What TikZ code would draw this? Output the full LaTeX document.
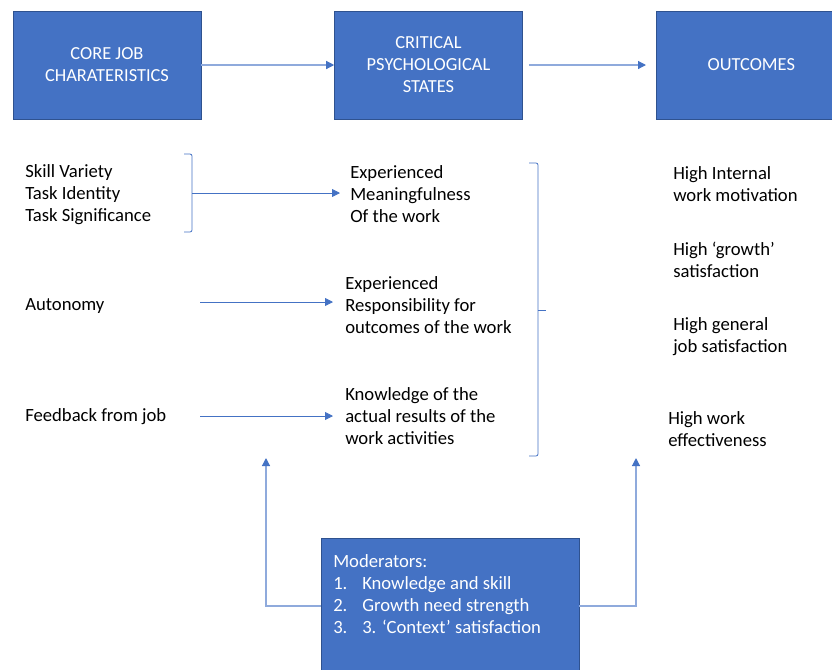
\documentclass[tikz,border=0pt]{standalone}
\usepackage{fontspec}
\setmainfont{Carlito}
\usetikzlibrary{arrows.meta}

\definecolor{boxblue}{HTML}{4472C4}
\definecolor{boxedge}{HTML}{2F528F}
\definecolor{linkblue}{HTML}{8FAADC}

\begin{document}
\begin{tikzpicture}[x=0.75pt, y=-0.75pt,
  font=\fontsize{14}{16.5}\selectfont,
  bluebox/.style={draw=boxedge, fill=boxblue, text=white, align=center,
    inner sep=0pt, minimum width=141pt, minimum height=81pt,
    font=\fontsize{13.8}{16.5}\selectfont},
  plain/.style={inner sep=0pt, align=left, anchor=west},
  link/.style={draw=linkblue, line width=0.9pt,
    -{Triangle[width=6pt, length=6pt, color=boxblue]}},
  brace/.style={draw=boxblue, line width=0.6pt, rounded corners=1.5pt}]

% page: 832 x 669 px, y grows downwards
\useasboundingbox (0,0) rectangle (832,669);

% ---- top row ----
\node[bluebox] (core) at (107,65) {CORE JOB\\CHARATERISTICS};
\node[bluebox] (cps)  at (428.5,65) {CRITICAL\\PSYCHOLOGICAL\\STATES};
\node[bluebox, minimum width=142.5pt, anchor=west] (out) at (656,65) {OUTCOMES};

\draw[link] (core.east) -- (cps.west);
\draw[link, shorten <=4.5pt, shorten >=7.5pt] (cps.east) -- (out.west);

% ---- job characteristics ----
\node[plain] (skills) at (25,195) {Skill Variety\\Task Identity\\Task Significance};
\node[plain] (auto)   at (25,306) {Autonomy};
\node[plain] (fback)  at (25,417) {Feedback from job};

% ---- psychological states ----
\node[plain] (mean) at (350,194) {Experienced\\Meaningfulness\\Of the work};
\node[plain] (resp) at (345,305) {Experienced\\Responsibility for\\outcomes of the work};
\node[plain] (know) at (345,416) {Knowledge of the\\actual results of the\\work activities};

% ---- outcomes ----
\node[plain] (motiv) at (673,184) {High Internal\\work motivation};
\node[plain] (grow)  at (673,260) {High ‘growth’\\satisfaction};
\node[plain] (gensat) at (673,337) {High general\\job satisfaction};
\node[plain] (effect) at (668,429) {High work\\effectiveness};

% brace round the first three characteristics
\coordinate (bone) at (192,193);
\draw[brace] (184,154) -- (192,154) -- (192,232) -- (184,232);
\draw[link, draw=boxblue, line width=0.6pt, shorten >=7.5pt] (bone) -- (bone -| mean.west);

% single characteristics
\coordinate (autoA) at (200,302);
\coordinate (fbackA) at (200,416);
\draw[link, draw=boxblue, line width=0.6pt, shorten >=9pt] (autoA) -- (autoA -| resp.west);
\draw[link, draw=boxblue, line width=0.6pt, shorten >=9pt] (fbackA) -- (fbackA -| know.west);

% brace round the three states
\draw[brace] (529,163) -- (538,163) -- (538,456) -- (529,456);
\draw[brace] (538,310) -- (546,310);

% ---- moderators ----
\node[draw=boxedge, fill=boxblue, inner sep=0pt, minimum width=193.5pt,
  minimum height=102pt] (mod) at (450,606) {};
\node[inner sep=0pt, anchor=north west, align=left, text=white] (modtxt) at (333,554)
  {Moderators:\\
   \makebox[21.75pt][l]{1.}Knowledge and skill\\
   \makebox[21.75pt][l]{2.}Growth need strength\\
   \makebox[21.75pt][l]{3.}3. ‘Context’ satisfaction};

\coordinate (upL) at (266,458);
\coordinate (upR) at (636,458);
\draw[link] (mod.west) -| (upL);
\draw[link] (mod.east) -| (upR);

\end{tikzpicture}
\end{document}
